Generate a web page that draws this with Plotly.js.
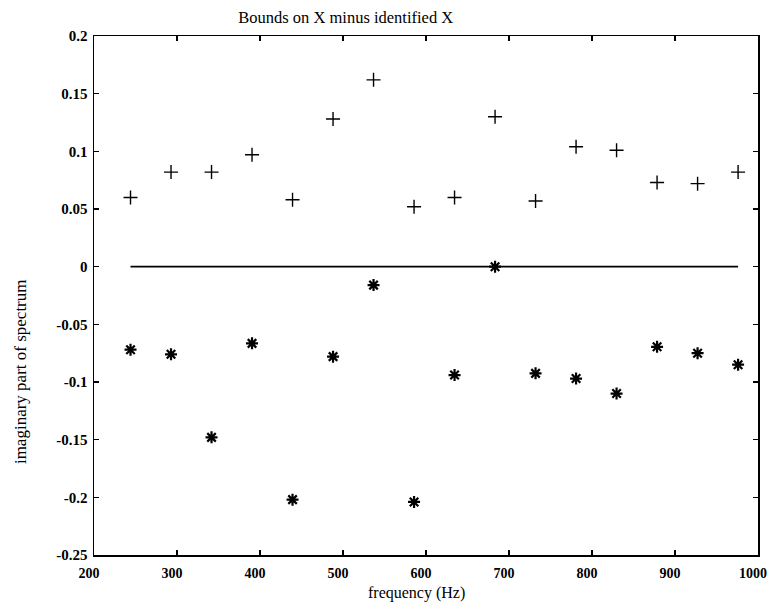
<!DOCTYPE html>
<html>
<head>
<meta charset="utf-8">
<script src="https://cdn.plot.ly/plotly-3.0.1.min.js"></script>
<style>html,body{margin:0;padding:0;background:#fff;}#chart{width:770px;height:604px;}</style>
</head>
<body>
<div id="chart"></div>
<script>
// frequencies (Hz)
const frequency = [244, 292.8, 341.6, 390.4, 439.2, 488, 536.8, 585.6, 634.4, 683.2, 732, 780.8, 829.6, 878.4, 927.2, 976];
// upper bound minus identified (+ markers)
const upperBound = [0.060, 0.082, 0.082, 0.097, 0.058, 0.128, 0.162, 0.052, 0.060, 0.130, 0.057, 0.104, 0.101, 0.073, 0.072, 0.082];
// lower bound minus identified (* markers)
const lowerBound = [-0.072, -0.076, -0.148, -0.0665, -0.202, -0.078, -0.016, -0.204, -0.094, 0.0, -0.0925, -0.097, -0.110, -0.0695, -0.075, -0.085];
// identified minus identified (zero line)
const zeroLine = frequency.map(() => 0);

const xTicks = [200, 300, 400, 500, 600, 700, 800, 900, 1000];
const yTicks = [-0.25, -0.2, -0.15, -0.1, -0.05, 0, 0.05, 0.1, 0.15, 0.2];
const yTickText = ['-0.25', '-0.2', '-0.15', '-0.1', '-0.05', '0', '0.05', '0.1', '0.15', '0.2'];

const serif = 'Liberation Serif, Times New Roman, serif';

const traces = [
  {x: frequency, y: zeroLine, mode: 'lines', line: {color: '#000', width: 1.6}, hoverinfo: 'skip'},
  {x: frequency, y: upperBound, mode: 'markers',
   marker: {symbol: 'cross-thin-open', size: 10, color: '#000', line: {color: '#000', width: 1.4}}},
  {x: frequency, y: lowerBound, mode: 'markers',
   marker: {symbol: 'asterisk-open', size: 10, color: '#000', line: {color: '#000', width: 2.2}}}
];

const axisCommon = {
  showgrid: false, zeroline: false, showline: true, linecolor: '#000', linewidth: 1.5,
  mirror: 'ticks', ticks: 'inside', ticklen: 5, tickwidth: 1.2, tickcolor: '#000',
  ticklabeloverflow: 'allow'
};

const layout = {
  width: 770, height: 604,
  margin: {l: 94, r: 12, t: 36, b: 49},
  paper_bgcolor: '#fff', plot_bgcolor: '#fff',
  showlegend: false,
  title: {text: 'Bounds on X minus identified X', x: 0.449, xanchor: 'center', y: 0.972, yanchor: 'middle',
          font: {family: serif, size: 16.5, color: '#000'}},
  xaxis: Object.assign({}, axisCommon, {range: [200, 1000], tickvals: xTicks, ticktext: xTicks.map(String),
          ticklabelstandoff: 5, ticklabelshift: -5,
          tickfont: {family: serif, size: 14, color: '#000', weight: 'bold'}}),
  yaxis: Object.assign({}, axisCommon, {range: [-0.25, 0.2], tickvals: yTicks, ticktext: yTickText, ticklabelstandoff: 2,
          tickfont: {family: serif, size: 15, color: '#000', weight: 'bold'}}),
  annotations: [
    {text: 'imaginary part of spectrum', textangle: -90, xref: 'paper', yref: 'paper',
     x: -0.111, y: 0.353, xanchor: 'center', yanchor: 'middle', showarrow: false,
     font: {family: serif, size: 17, color: '#000'}},
    {text: 'frequency (Hz)', xref: 'paper', yref: 'paper',
     x: 0.486, y: -0.073, xanchor: 'center', yanchor: 'middle', showarrow: false,
     font: {family: serif, size: 16, color: '#000'}}
  ]
};

Plotly.newPlot('chart', traces, layout, {displayModeBar: false, staticPlot: true});
</script>
</body>
</html>
